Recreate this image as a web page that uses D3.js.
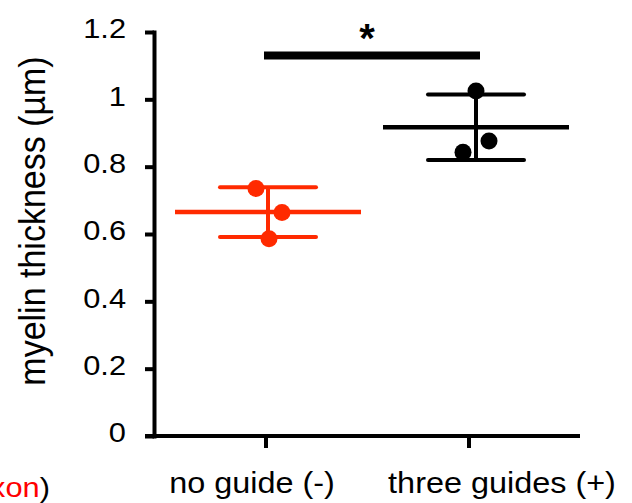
<!DOCTYPE html>
<html>
<head>
<meta charset="utf-8">
<script src="https://cdn.jsdelivr.net/npm/d3@7"></script>
<style>
  body { margin: 0; background: #fff; }
  svg { display: block; font-family: "Liberation Sans", Arial, sans-serif; }
</style>
</head>
<body>
<svg id="chart" width="632" height="503"></svg>
<script>
// ---- data ----
const groups = ["no guide (-)", "three guides (+)"];
const noGuide = [0.735, 0.664, 0.586];
const threeGuides = [1.025, 0.876, 0.843];
const groupMeans = [0.665, 0.917];
const groupSD = [0.074, 0.097];
const yTicks = [0, 0.2, 0.4, 0.6, 0.8, 1, 1.2];
const sigLevel = 1.13;
const sigLabel = "*";

// ---- layout ----
const colors = ["#ff2a00", "#000000"];
const jitter = [[-12, 14, 1], [0, 13, -13]];
const labelShift = [-16, 26];
const axisX = 154, baseY = 436, topY = 32;
const stretch = 1.1; // figure text is a bit wider than Arial

const svg = d3.select("#chart");

const y = d3.scaleLinear().domain([0, 1.2]).range([baseY, topY]);
const x = d3.scalePoint().domain(groups).range([268, 476]);

// y axis
const yAxis = svg.append("g")
    .attr("transform", `translate(${axisX},0)`)
    .call(d3.axisLeft(y).tickValues(yTicks).tickSize(9).tickSizeOuter(0)
        .tickFormat(d => d3.format("~g")(d)));
yAxis.select(".domain").attr("stroke-width", 4).attr("stroke-linecap", "square");
yAxis.selectAll(".tick line").attr("stroke-width", 4);
yAxis.selectAll(".tick text")
    .attr("x", -28 / stretch)
    .attr("dy", "0.32em")
    .attr("y", -3)
    .attr("transform", `scale(${stretch},1)`)
    .attr("font-size", 28)
    .attr("font-family", "Liberation Sans, Arial, sans-serif")
    .attr("fill", "#000");

// x axis
const xAxis = svg.append("g")
    .attr("transform", `translate(0,${baseY})`)
    .call(d3.axisBottom(x).tickSize(12).tickSizeOuter(0));
xAxis.select(".domain").remove();
xAxis.append("line")
    .attr("x1", axisX - 9).attr("x2", 580)
    .attr("stroke", "#000").attr("stroke-width", 4);
xAxis.selectAll(".tick")
    .attr("transform", (d, i) => `translate(${x(d) - 2 - 5 * i},0)`);
xAxis.selectAll(".tick line").attr("stroke-width", 4);
xAxis.selectAll(".tick text")
    .attr("x", (d, i) => (labelShift[i] + 2 + 5 * i) / 1.08)
    .attr("y", 57)
    .attr("dy", 0)
    .attr("transform", "scale(1.08,1)")
    .attr("font-size", 30)
    .attr("font-family", "Liberation Sans, Arial, sans-serif")
    .attr("fill", "#000");

// y label
svg.append("text")
    .attr("transform", `scale(${stretch},1) rotate(-90)`)
    .attr("x", -221)
    .attr("y", 45 / stretch)
    .attr("text-anchor", "middle")
    .attr("font-size", 34)
    .text("myelin thickness (µm)");

// mean +/- SD bars and points
const series = [noGuide, threeGuides];
groups.forEach((g, i) => {
    const cx = x(g);
    const grp = svg.append("g").attr("stroke", colors[i]).attr("fill", colors[i]);
    grp.append("line")
        .attr("x1", cx - 93).attr("x2", cx + 93)
        .attr("y1", y(groupMeans[i])).attr("y2", y(groupMeans[i]))
        .attr("stroke-width", 4.5);
    grp.append("line")
        .attr("x1", cx).attr("x2", cx)
        .attr("y1", y(groupMeans[i] + groupSD[i])).attr("y2", y(groupMeans[i] - groupSD[i]))
        .attr("stroke-width", 4);
    [groupMeans[i] + groupSD[i], groupMeans[i] - groupSD[i]].forEach(v => {
        grp.append("line")
            .attr("x1", cx - 48).attr("x2", cx + 48)
            .attr("y1", y(v)).attr("y2", y(v))
            .attr("stroke-width", 4)
            .attr("stroke-linecap", "round");
    });
    grp.selectAll("circle")
        .data(series[i])
        .join("circle")
        .attr("cx", (d, j) => cx + jitter[i][j])
        .attr("cy", d => y(d))
        .attr("r", 8.5)
        .attr("stroke", "none");
});

// significance bar
svg.append("line")
    .attr("x1", x(groups[0]) - 4).attr("x2", x(groups[1]) + 4)
    .attr("y1", y(sigLevel)).attr("y2", y(sigLevel))
    .attr("stroke", "#000").attr("stroke-width", 8);
svg.append("text")
    .attr("x", (x(groups[0]) + x(groups[1])) / 2 - 5)
    .attr("y", 52)
    .attr("text-anchor", "middle")
    .attr("font-size", 40)
    .attr("font-weight", "bold")
    .text(sigLabel);

// footnote fragment at bottom left (cut by the left edge in the figure)
const note = svg.append("text")
    .attr("transform", `scale(${stretch},1)`)
    .attr("x", 50 / stretch).attr("y", 497)
    .attr("text-anchor", "end")
    .attr("font-size", 28);
note.append("tspan").attr("fill", "#ff0000").text("axon");
note.append("tspan").attr("fill", "#000").text(")");
</script>
</body>
</html>
